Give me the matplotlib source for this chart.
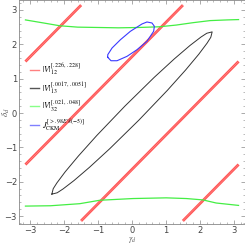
import numpy as np
import matplotlib
matplotlib.use("Agg")
import matplotlib.pyplot as plt
from matplotlib.ticker import MultipleLocator

plt.rcParams['mathtext.fontset'] = 'stix'
plt.rcParams['font.family'] = ['DejaVu Sans']

# --- data ---
# red bands: delta = gamma + offset (within [-pi, pi])
red_offsets = [4.64, 1.64, -1.64, -4.64]

# green curves
green_top_g = [-3.14, -2.6, -2.13, -1.6, -1.0, -0.4, 0.2, 0.8, 1.3, 1.8, 2.3, 2.8, 3.14]
green_top_d = [2.71, 2.62, 2.54, 2.50, 2.49, 2.48, 2.49, 2.51, 2.56, 2.63, 2.69, 2.71, 2.72]
green_bot_g = [-3.14, -2.4, -1.54, -0.95, 0.03, 1.01, 1.6, 2.09, 2.48, 3.14]
green_bot_d = [-2.71, -2.70, -2.64, -2.54, -2.49, -2.47, -2.49, -2.53, -2.62, -2.69]

# black contour (closed)
black_g = [-2.362, -2.322, -2.211, -1.967, -1.578, -1.040, -0.205, 0.657, 1.250, 1.710, 2.032, 2.204, 2.362,
           2.322, 2.211, 1.967, 1.578, 1.040, 0.205, -0.657, -1.250, -1.710, -2.032, -2.204, -2.362]
black_d = [-2.362, -2.204, -2.032, -1.710, -1.250, -0.657, 0.205, 1.040, 1.578, 1.967, 2.211, 2.322, 2.362,
           2.204, 2.032, 1.710, 1.250, 0.657, -0.205, -1.040, -1.578, -1.967, -2.211, -2.322, -2.362]

# blue contour (closed)
blue_g = [-0.715, -0.618, -0.441, -0.147, 0.147, 0.441, 0.638, 0.659, 0.588, 0.441, 0.294, -0.047, -0.341, -0.588, -0.715, -0.715]
blue_d = [1.621, 1.522, 1.522, 1.650, 1.843, 2.087, 2.379, 2.525, 2.621, 2.650, 2.592, 2.379, 2.134, 1.892, 1.697, 1.621]

labels = [r"$|V|_{12}^{[.226,\,.228]}$",
          r"$|V|_{13}^{[.0017,\,.0051]}$",
          r"$|V|_{32}^{[.021,\,.048]}$",
          r"$J_{\rm CKM}^{[>.98E\%(-5)]}$"]

red_c = '#ff5555'
black_c = '#333333'
green_c = '#44ee44'
blue_c = '#3a3aff'

fig = plt.figure(figsize=(2.45, 2.45), dpi=100)
ax = fig.add_axes([19/245, 20.7/245, 1 - 19/245, 1 - 20.7/245])

lim = np.pi
for c in red_offsets:
    g0 = max(-lim, -lim - c)
    g1 = min(lim, lim - c)
    ax.plot([g0, g1], [g0 + c, g1 + c], color=red_c, lw=2.0, solid_capstyle='butt', zorder=2)
    ax.plot([g0, g1], [g0 + c, g1 + c], color='#ffaaaa', lw=0.5, ls=(0, (1, 1)), zorder=2)

ax.plot(green_top_g, green_top_d, color=green_c, lw=0.9, zorder=3)
ax.plot(green_bot_g, green_bot_d, color=green_c, lw=0.9, zorder=3)
ax.plot(black_g, black_d, color=black_c, lw=0.7, zorder=4)
ax.plot(blue_g, blue_d, color=blue_c, lw=0.8, zorder=4)

handles = [plt.Line2D([], [], color='#ff8080', lw=1.0),
           plt.Line2D([], [], color='#555555', lw=1.0),
           plt.Line2D([], [], color='#88ff88', lw=1.0),
           plt.Line2D([], [], color='#8080ff', lw=1.0)]
ax.legend(handles, labels, loc='upper left', bbox_to_anchor=(0.05, 0.725), frameon=False,
          fontsize=6, handlelength=1.0, handletextpad=0.4, labelspacing=0.35, borderpad=0,
          borderaxespad=0)

ax.set_xlim(-3.33, 3.33)
ax.set_ylim(-3.24, 3.29)
ax.xaxis.set_major_locator(MultipleLocator(1))
ax.yaxis.set_major_locator(MultipleLocator(1))
ax.xaxis.set_minor_locator(MultipleLocator(0.2))
ax.yaxis.set_minor_locator(MultipleLocator(0.2))
ax.tick_params(which='both', direction='in', colors='#888888', labelcolor='#444444',
               labelsize=6, top=True, right=True)
ax.tick_params(which='major', length=3, width=0.5, pad=1.5)
ax.tick_params(which='minor', length=1.5, width=0.4)
for s in ax.spines.values():
    s.set_color('#888888')
    s.set_linewidth(0.6)

ax.set_xlabel(r"$\gamma_d$", fontsize=6, color='#555555', va='bottom')
ax.xaxis.set_label_coords(0.5, -20.4/224.3)
ax.set_ylabel(r"$\delta_d$", fontsize=6.5, color='#555555', va='top')
ax.yaxis.set_label_coords(-18/226, 0.5)

fig.savefig('out.png', dpi=100)
